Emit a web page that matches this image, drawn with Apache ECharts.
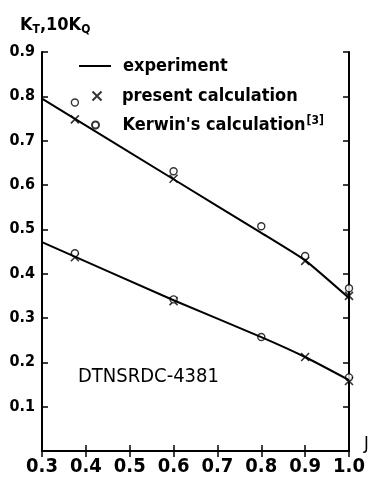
<!DOCTYPE html>
<html>
<head>
<meta charset="utf-8">
<script src="https://cdn.jsdelivr.net/npm/echarts@6/dist/echarts.min.js"></script>
<style>
html,body{margin:0;padding:0;background:#fff;}
#chart{width:372px;height:477px;}
</style>
</head>
<body>
<div id="chart"></div>
<script>
// ---- data ----
const J_EXP = [0.3, 0.6, 0.8, 0.9, 1.0];
const KT_EXP = [0.795, 0.613, 0.492, 0.43, 0.345];
const KQ10_EXP = [0.471, 0.34, 0.257, 0.212, 0.16];

const J_PRESENT_KT = [0.375, 0.6, 0.9, 1.0];
const PRESENT_KT = [0.748, 0.614, 0.429, 0.35];
const J_KERWIN_KT = [0.375, 0.6, 0.8, 0.9, 1.0];
const KERWIN_KT = [0.786, 0.631, 0.507, 0.44, 0.367];

const J_PRESENT_KQ = [0.375, 0.6, 0.9, 1.0];
const PRESENT_KQ10 = [0.437, 0.338, 0.212, 0.158];
const J_KERWIN_KQ = [0.375, 0.6, 0.8, 1.0];
const KERWIN_KQ10 = [0.446, 0.342, 0.257, 0.166];

const X_TICKS = ['0.3','0.4','0.5','0.6','0.7','0.8','0.9','1.0'];
const Y_TICKS = ['', '0.1','0.2','0.3','0.4','0.5','0.6','0.7','0.8','0.9'];

const SERIES_EXP = 'experiment';
const SERIES_PRESENT = 'present calculation';
const SERIES_KERWIN = "Kerwin's calculation";

const zip = (xs, ys) => xs.map((x, i) => [x, ys[i]]);

const FONT = '"DejaVu Sans Condensed", "DejaVu Sans", sans-serif';
const CROSS = 'path://M0,0L10,10M10,0L0,10';

const chart = echarts.init(document.getElementById('chart'), null, {renderer: 'canvas'});

const axisLine = {show: true, lineStyle: {color: '#000', width: 2}};
const tickIn = {show: true, inside: true, length: 6, lineStyle: {color: '#000', width: 1.5}};

const legendText = {
  fontFamily: FONT, fontWeight: 'bold', fontSize: 18, color: '#000',
  padding: [0, 0, 0, 0],
  rich: {
    t: {fontFamily: FONT, fontWeight: 'bold', fontSize: 18, color: '#000'},
    s: {fontFamily: FONT, fontWeight: 'bold', fontSize: 12, color: '#000', verticalAlign: 'top', padding: [0, 0, 8, 1]}
  }
};

const option = {
  backgroundColor: '#fff',
  animation: false,
  grid: {left: 42, right: 23, top: 52, bottom: 25, containLabel: false},
  xAxis: [
    {
      type: 'value', min: 0.3, max: 1.0, interval: 0.1,
      position: 'bottom',
      axisLine, axisTick: tickIn, splitLine: {show: false},
      axisLabel: {
        margin: 6, color: '#000', fontFamily: FONT, fontWeight: 'bold', fontSize: 20,
        formatter: v => X_TICKS[Math.round((v - 0.3) * 10)] ?? ''
      },
      name: 'J', nameLocation: 'end', nameGap: 15,
      nameTextStyle: {color: '#000', fontFamily: FONT, fontSize: 18, verticalAlign: 'top', padding: [-16, 0, 0, 0]}
    },
    {
      type: 'value', min: 0.3, max: 1.0, interval: 0.1,
      position: 'top',
      axisLine, axisTick: tickIn, axisLabel: {show: false}, splitLine: {show: false}
    }
  ],
  yAxis: [
    {
      type: 'value', min: 0, max: 0.9, interval: 0.1,
      position: 'left',
      axisLine, axisTick: tickIn, splitLine: {show: false},
      axisLabel: {
        margin: 7, color: '#000', fontFamily: FONT, fontWeight: 'bold', fontSize: 16,
        formatter: v => Y_TICKS[Math.round(v * 10)] ?? ''
      }
    },
    {
      type: 'value', min: 0, max: 0.9, interval: 0.1,
      position: 'right',
      axisLine, axisTick: tickIn, axisLabel: {show: false}, splitLine: {show: false}
    }
  ],
  legend: [
    {
      left: 79, top: 57, itemWidth: 32, itemHeight: 2, padding: 0,
      data: [{name: SERIES_EXP, icon: 'rect', itemStyle: {color: '#000'}}],
      textStyle: Object.assign({}, legendText, {padding: [0, 0, 0, 7]}),
      selectedMode: false
    },
    {
      left: 90, top: 87, itemWidth: 40, itemHeight: 9, padding: 0,
      data: [SERIES_PRESENT],
      textStyle: legendText, selectedMode: false
    },
    {
      left: 91, top: 115, itemWidth: 40, itemHeight: 7, padding: 0,
      data: [SERIES_KERWIN],
      textStyle: Object.assign({}, legendText, {padding: [0, 0, 0, 2]}), selectedMode: false,
      formatter: n => '{t|' + n + '}{s|[3]}'
    }
  ],
  graphic: [
    {
      type: 'text', left: 20, top: 16,
      style: {
        text: '{k|K}{sub|T}{k|,10K}{sub|Q}',
        rich: {
          k: {fontFamily: FONT, fontSize: 18, fill: '#000', color: '#000', fontWeight: 'bold'},
          sub: {fontFamily: FONT, fontSize: 12, fill: '#000', color: '#000', fontWeight: 'bold', verticalAlign: 'bottom', padding: [9, 0, 0, 0]}
        }
      }
    },
    {
      type: 'text', left: 78, top: 367,
      style: {text: 'DTNSRDC-4381', fontFamily: FONT, fontSize: 20, fill: '#000'}
    }
  ],
  series: [
    {
      name: SERIES_EXP, type: 'line', data: zip(J_EXP, KT_EXP), smooth: 0.15,
      symbol: 'none', lineStyle: {color: '#000', width: 2}, itemStyle: {color: '#000'}
    },
    {
      name: SERIES_EXP, type: 'line', data: zip(J_EXP, KQ10_EXP), smooth: 0.15,
      symbol: 'none', lineStyle: {color: '#000', width: 2}, itemStyle: {color: '#000'}
    },
    {
      name: SERIES_PRESENT, type: 'scatter', data: zip(J_PRESENT_KT, PRESENT_KT),
      symbol: CROSS, symbolSize: 8,
      itemStyle: {color: 'none', borderColor: '#000', borderWidth: 1.6}
    },
    {
      name: SERIES_PRESENT, type: 'scatter', data: zip(J_PRESENT_KQ, PRESENT_KQ10),
      symbol: CROSS, symbolSize: 8,
      itemStyle: {color: 'none', borderColor: '#000', borderWidth: 1.6}
    },
    {
      name: SERIES_KERWIN, type: 'scatter', data: zip(J_KERWIN_KT, KERWIN_KT),
      symbol: 'circle', symbolSize: 7,
      itemStyle: {color: '#fff', borderColor: '#000', borderWidth: 1.4}
    },
    {
      name: SERIES_KERWIN, type: 'scatter', data: zip(J_KERWIN_KQ, KERWIN_KQ10),
      symbol: 'circle', symbolSize: 7,
      itemStyle: {color: '#fff', borderColor: '#000', borderWidth: 1.4}
    }
  ]
};

chart.setOption(option);
</script>
</body>
</html>
